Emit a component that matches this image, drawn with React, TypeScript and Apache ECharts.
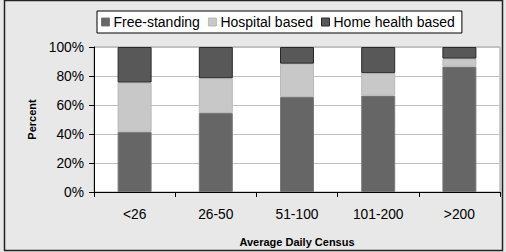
import React, { useEffect, useRef } from "react";
import * as echarts from "echarts";

const categories = ["<26", "26-50", "51-100", "101-200", ">200"];
const freeStanding = [41.5, 54.5, 65.5, 66.5, 86.5];
const hospitalBased = [34, 24, 23, 15.5, 5.5];
const homeHealthBased = [24.5, 21.5, 11.5, 18, 8];
const yTicks = { min: 0, max: 100, interval: 20 };

export default function App() {
  const ref = useRef<HTMLDivElement>(null);
  useEffect(() => {
    if (!ref.current) return;
    const chart = echarts.init(ref.current, undefined, { renderer: "svg" });
    const font = "Arial, 'Liberation Sans', sans-serif";
    chart.setOption({
      animation: false,
      backgroundColor: "#e8e8e8",
      textStyle: { fontFamily: font },
      graphic: [
        {
          type: "rect",
          shape: { x: 4.5, y: 0.5, width: 498, height: 250 },
          style: { fill: "none", stroke: "#222", lineWidth: 1.5 },
          silent: true,
          z: 100,
        },
      ],
      legend: {
        left: 97,
        top: 11,
        padding: [4, 7, 4, 4],
        itemGap: 8,
        itemWidth: 8,
        itemHeight: 8,
        icon: "rect",
        itemStyle: { borderWidth: 1 },
        backgroundColor: "#fff",
        borderColor: "#000",
        borderWidth: 1,
        textStyle: { fontSize: 14, color: "#000", fontFamily: font, padding: [0, 0, 0, -1] },
        data: ["Free-standing", "Hospital based", "Home health based"],
      },
      grid: {
        left: 94,
        right: 6,
        top: 47,
        bottom: 56,
        show: true,
        backgroundColor: "#fff",
        borderColor: "#a0a0a0",
        borderWidth: 1,
      },
      xAxis: {
        type: "category",
        data: categories,
        boundaryGap: true,
        axisLine: { lineStyle: { color: "#000", width: 1 } },
        axisTick: { show: true, alignWithLabel: false, length: 5, lineStyle: { color: "#000" } },
        axisLabel: { color: "#000", fontSize: 13.8, margin: 15, fontFamily: font },
        name: "Average Daily Census",
        nameLocation: "middle",
        nameGap: 44,
        nameTextStyle: { fontSize: 11, fontWeight: "bold", color: "#000", fontFamily: font },
      },
      yAxis: {
        type: "value",
        min: yTicks.min,
        max: yTicks.max,
        interval: yTicks.interval,
        axisLine: { show: true, lineStyle: { color: "#000", width: 1 } },
        axisTick: { show: true, length: 5, lineStyle: { color: "#000" } },
        axisLabel: { color: "#000", fontSize: 13.8, formatter: "{value}%", margin: 10, fontFamily: font },
        splitLine: { lineStyle: { color: "#c0c0c0", width: 1 } },
        name: "Percent",
        nameLocation: "middle",
        nameGap: 55,
        nameRotate: 90,
        nameTextStyle: { fontSize: 11, fontWeight: "bold", color: "#000", fontFamily: font },
      },
      series: [
        {
          name: "Free-standing",
          type: "bar",
          stack: "total",
          barWidth: 34,
          data: freeStanding,
          itemStyle: { color: "#666666", borderColor: "#7a7a7a", borderWidth: 1 },
        },
        {
          name: "Hospital based",
          type: "bar",
          stack: "total",
          barWidth: 34,
          data: hospitalBased,
          itemStyle: { color: "#c8c8c8", borderColor: "#b8b8b8", borderWidth: 1 },
        },
        {
          name: "Home health based",
          type: "bar",
          stack: "total",
          barWidth: 34,
          data: homeHealthBased,
          itemStyle: { color: "#585858", borderColor: "#2a2a2a", borderWidth: 1 },
        },
      ],
    });
    return () => chart.dispose();
  }, []);
  return (
    <div
      ref={ref}
      style={{ position: "absolute", left: 0, top: 0, width: 506, height: 252 }}
    />
  );
}
